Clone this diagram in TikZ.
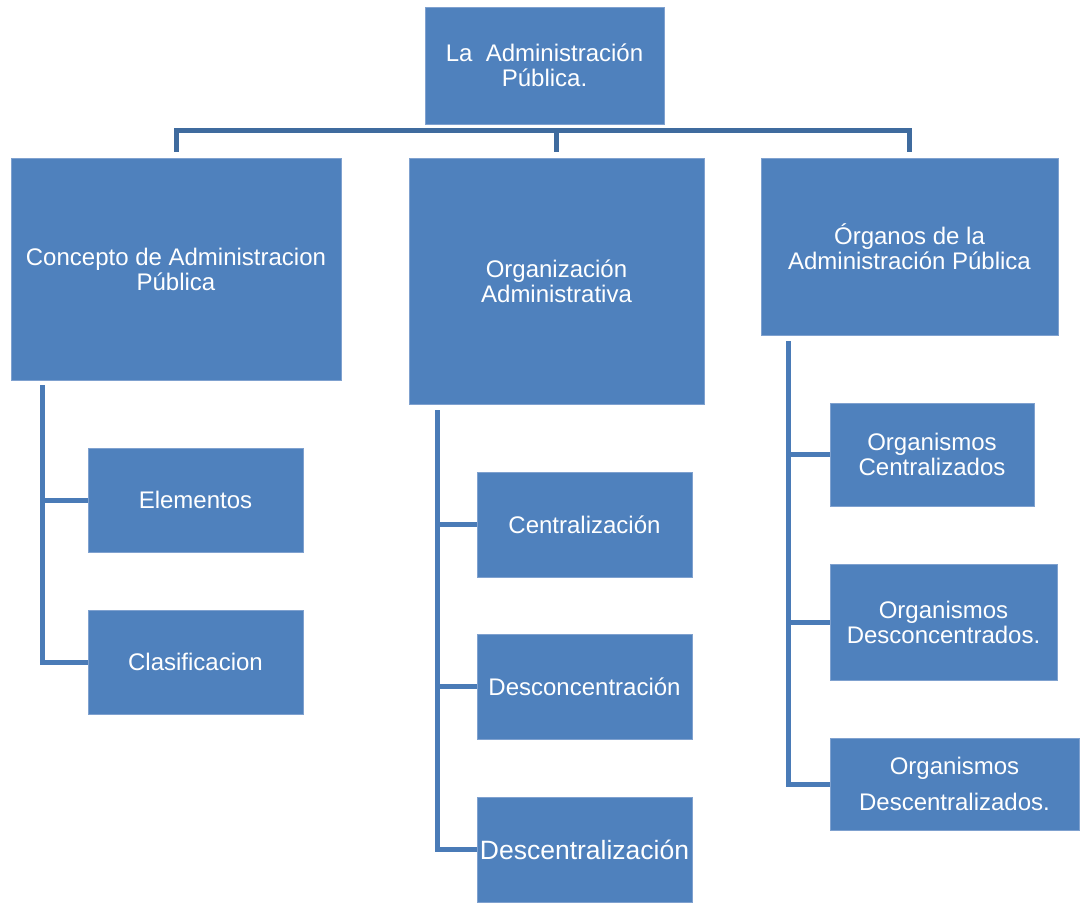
\documentclass[tikz,border=0pt]{standalone}
\usepackage{fontspec}
\setmainfont{Liberation Sans}
\definecolor{boxfill}{HTML}{4F81BD}
\definecolor{boxedge}{HTML}{7FA1CF}
\definecolor{barcol}{HTML}{3F6B9E}
\definecolor{lncol}{HTML}{4A7BB7}
\begin{document}
\begin{tikzpicture}[x=1pt,y=-1pt,
  box/.style={rectangle, fill=boxfill, draw=boxedge, line width=0.6pt, text=white,
    align=center, inner sep=0pt, font=\fontsize{24}{25}\selectfont},
  bar/.style={draw=barcol, line width=5pt, line join=miter},
  ln/.style={draw=lncol, line width=5pt, line join=miter}]
\useasboundingbox[fill=white] (0,0) rectangle (1084,903);

\node[box, minimum width=239pt, minimum height=117pt] (top) at (544.5,65.5) {La~~Administración\\Pública.};
\node[box, minimum width=330pt, minimum height=222pt] (c1) at (176,269) {Concepto de Administracion\\Pública};
\node[box, minimum width=295pt, minimum height=246pt] (c2) at (556.5,281) {Organización\\Administrativa};
\node[box, minimum width=297pt, minimum height=177pt] (c3) at (909.5,246.5) {Órganos de la\\Administración Pública};

\node[box, minimum width=215pt, minimum height=104pt] (e1) at (195.5,500) {Elementos};
\node[box, minimum width=215pt, minimum height=104pt] (e2) at (195.5,662) {Clasificacion};

\node[box, minimum width=215pt, minimum height=105pt] (o1) at (584.5,524.5) {Centralización};
\node[box, minimum width=215pt, minimum height=105pt] (o2) at (584.5,686.5) {Desconcentración};
\node[box, minimum width=215pt, minimum height=105pt, font=\fontsize{26.5}{28}\selectfont] (o3) at (584.5,849.5) {Descentralización};

\node[box, minimum width=204pt, minimum height=103pt] (g1) at (932,454.5) {Organismos\\Centralizados};
\node[box, minimum width=227pt, minimum height=116pt] (g2) at (943.5,622) {Organismos\\Desconcentrados.};
\node[box, minimum width=249pt, minimum height=92pt, font=\fontsize{24}{36}\selectfont] (g3) at (954.5,784) {Organismos\\Descentralizados.};

% top bus
\coordinate (busL) at (176,130);
\coordinate (busR) at (909.5,130);
\draw[bar] ([yshift=6pt]c1.north) -- (busL) -- (busR) -- ([yshift=6pt]c3.north);
\draw[bar] ([yshift=6pt]c2.north) -- (c2.north |- busL);

% branch 1
\coordinate (v1) at (42,385);
\draw[ln] (v1) |- (e1.west);
\draw[ln] (v1) |- (e2.west);
% branch 2
\coordinate (v2) at (437,410);
\draw[ln] (v2) |- (o1.west);
\draw[ln] (v2) |- (o2.west);
\draw[ln] (v2) |- (o3.west);
% branch 3
\coordinate (v3) at (788,341);
\draw[ln] (v3) |- (g1.west);
\draw[ln] (v3) |- (g2.west);
\draw[ln] (v3) |- (g3.west);
\end{tikzpicture}
\end{document}
